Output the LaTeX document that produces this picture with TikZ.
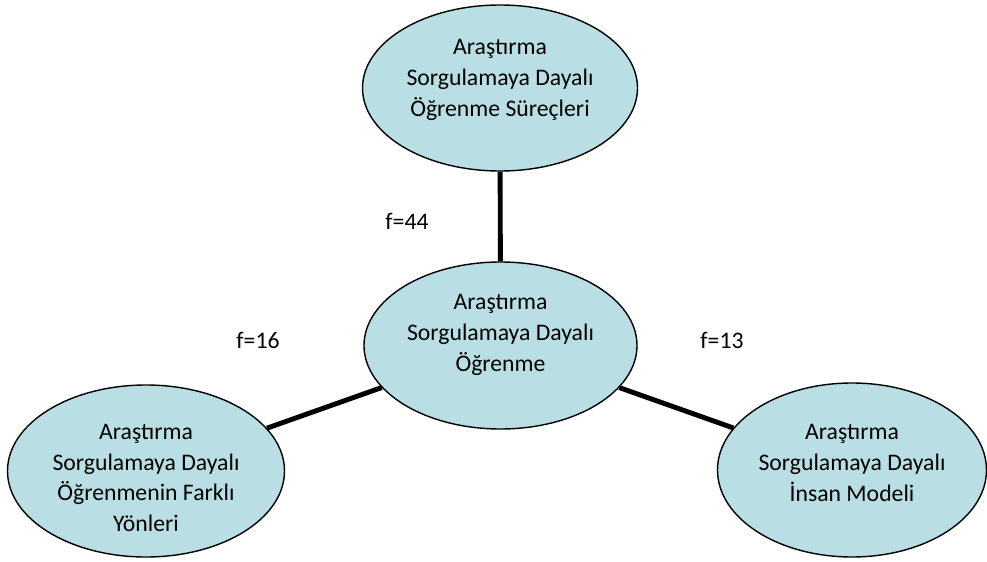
\documentclass[tikz,border=0pt]{standalone}
\usepackage{fontspec}
\setmainfont{Carlito}
\usepackage{tikz}
\usetikzlibrary{positioning}
\usetikzlibrary{arrows,shapes,backgrounds}
\usetikzlibrary{calc}
\definecolor[named]{lightaqua}{RGB}{185,223,228}

\begin{document}
\begin{tikzpicture}[
  topic/.style={ellipse,draw,fill=lightaqua,line width=0.8pt,inner sep=0pt},
  topictext/.style={align=center,font=\fontsize{13.5}{17.6}\selectfont},
  link/.style={line width=2.8pt},
  freq/.style={font=\fontsize{13.5}{17.6}\selectfont}]
\useasboundingbox (0,0) rectangle (19.74,11.22);
\node [topic,minimum width=5.5cm,minimum height=3.32cm,label={[topictext,yshift=0.16cm]center:{Araştırma\\Sorgulamaya Dayalı\\Öğrenme Süreçleri}}](surec) at (10,9.46) {};
\node [topic,minimum width=5.46cm,minimum height=3.34cm,label={[topictext,yshift=0.22cm]center:{Araştırma\\Sorgulamaya Dayalı\\Öğrenme}}](ogrenme) at (10.01,4.31) {};
\node [topic,minimum width=5.54cm,minimum height=3.44cm,label={[topictext,yshift=-0.14cm]center:{Araştırma\\Sorgulamaya Dayalı\\Öğrenmenin Farklı\\Yönleri}}](yonler) at (2.92,1.8) {};
\node [topic,minimum width=5.38cm,minimum height=3.48cm,label={[topictext,yshift=0.14cm]center:{Araştırma\\Sorgulamaya Dayalı\\İnsan Modeli}}](insan) at (17.04,1.82) {};
\draw [link] (surec) -- (ogrenme);
\draw [link] (ogrenme) -- (yonler);
\draw [link] (ogrenme) -- (insan);
\node [freq](f44) at (8.14,6.8) {f=44};
\node [freq](f16) at (5.16,4.42) {f=16};
\node [freq](f13) at (14.44,4.42) {f=13};
\end{tikzpicture}
\end{document}
